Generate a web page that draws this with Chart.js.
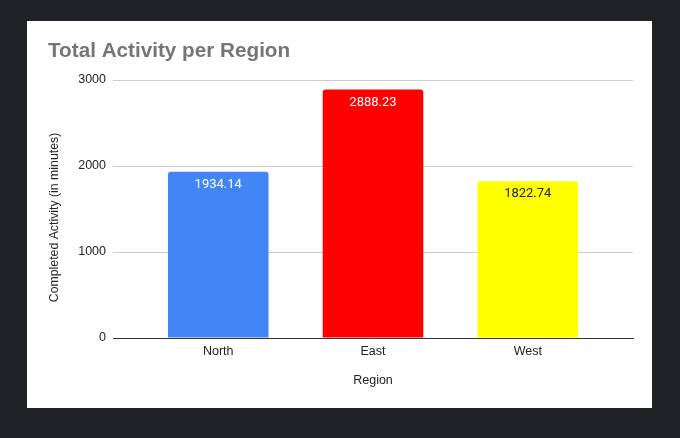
<!DOCTYPE html>
<html>
<head>
<meta charset="utf-8">
<script src="https://cdn.jsdelivr.net/npm/chart.js@4/dist/chart.umd.min.js"></script>
<style>
html,body{margin:0;padding:0;background:#202124;width:680px;height:438px;overflow:hidden;}
#card{position:absolute;left:27px;top:21px;width:625px;height:387px;background:#fff;}
canvas{display:block;}
</style>
</head>
<body>
<div id="card"><canvas id="c" width="625" height="387"></canvas></div>
<script>
const categories = ["North", "East", "West"];
const values = [1934.14, 2888.23, 1822.74];
const barColors = ["#4285F4", "#FF0000", "#FFFF00"];
const labelColors = ["#FFFFFF", "#FFFFFF", "#222222"];
const yTicks = [0, 1000, 2000, 3000];
const chartTitle = "Total Activity per Region";
const xTitle = "Region";
const yTitle = "Completed Activity (in minutes)";

const fontFamily = '"Liberation Sans", Arial, sans-serif';

const textPlugin = {
  id: 'cardText',
  afterDraw(chart) {
    const ctx = chart.ctx;
    ctx.save();
    ctx.font = 'bold 20.7px ' + fontFamily;
    ctx.fillStyle = '#757575';
    ctx.textAlign = 'left';
    ctx.textBaseline = 'alphabetic';
    ctx.fillText(chartTitle, 21, 36);
    ctx.restore();

    ctx.save();
    ctx.font = '12.3px ' + fontFamily;
    ctx.fillStyle = '#222222';
    ctx.textAlign = 'center';
    ctx.textBaseline = 'middle';
    ctx.translate(28, 196.5);
    ctx.rotate(-Math.PI / 2);
    ctx.fillText(yTitle, 0, 0);
    ctx.restore();
  }
};

const valueLabels = {
  id: 'valueLabels',
  afterDatasetsDraw(chart) {
    const ctx = chart.ctx;
    const meta = chart.getDatasetMeta(0);
    ctx.save();
    ctx.font = '13px Roboto, sans-serif';
    ctx.textAlign = 'center';
    ctx.textBaseline = 'middle';
    meta.data.forEach((bar, i) => {
      ctx.fillStyle = labelColors[i];
      ctx.fillText(values[i].toFixed(2), bar.x, bar.y + 13);
    });
    ctx.restore();
  }
};

const font = { family: fontFamily, size: 12.5 };

new Chart(document.getElementById('c'), {
  type: 'bar',
  data: {
    datasets: [{
      data: values.map((v, i) => ({ x: i, y: v })),
      backgroundColor: barColors,
      borderRadius: 3,
      barPercentage: 1,
      categoryPercentage: 0.65
    }]
  },
  options: {
    responsive: false,
    animation: false,
    devicePixelRatio: 1,
    layout: { padding: { top: 59, right: 19, left: 0, bottom: 0 } },
    plugins: { legend: { display: false }, tooltip: { enabled: false }, title: { display: false } },
    scales: {
      x: {
        type: 'linear',
        min: -0.68, max: 2.68,
        offset: false,
        afterFit(s) { s.height = 70; },
        afterBuildTicks(s) { s.ticks = categories.map((c, i) => ({ value: i })); },
        grid: { display: false, drawTicks: false },
        border: { display: true, color: '#333333', width: 1 },
        ticks: { color: '#222222', font, padding: 6, callback: (v) => categories[v] },
        title: { display: true, text: xTitle, color: '#222222', font, padding: { top: 2, bottom: 19.5 } }
      },
      y: {
        min: 0, max: 3000,
        afterFit(s) { s.width = 86; },
        afterBuildTicks(s) { s.ticks = yTicks.map(v => ({ value: v })); },
        grid: { color: '#cccccc', drawTicks: false, lineWidth: 1 },
        border: { display: false },
        ticks: { color: '#222222', font, padding: 7, callback: (v) => String(v) },
        title: { display: false }
      }
    }
  },
  plugins: [textPlugin, valueLabels]
});
</script>
</body>
</html>
